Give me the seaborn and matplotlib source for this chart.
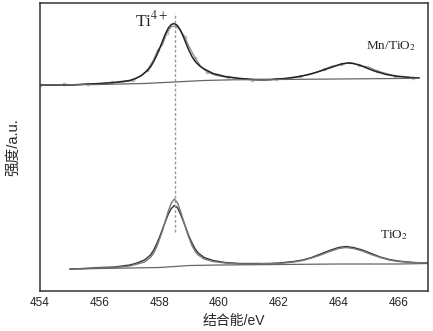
import matplotlib
matplotlib.use('Agg')
import matplotlib.pyplot as plt
import seaborn as sns
import numpy as np

# Mn/TiO2 (upper trace): fitted envelope, measured data, background
mn_fit_x = [454.0, 455.0, 456.0, 456.5, 457.0, 457.2, 457.4, 457.6, 457.7, 457.8, 457.9, 458.0,
            458.1, 458.2, 458.3, 458.4, 458.5, 458.6, 458.7, 458.8, 458.9, 459.0, 459.1, 459.2,
            459.35, 459.5, 459.8, 460.2, 460.7, 461.2, 461.7, 462.2, 462.7, 463.0, 463.3, 463.6,
            463.9, 464.1, 464.3, 464.5, 464.7, 464.9, 465.2, 465.6, 466.0, 466.4, 466.7]
mn_fit_y = [206, 206, 207.5, 208.5, 210.5, 212.5, 215.5, 220.5, 224, 229, 235, 242,
            249.5, 257, 263, 266.5, 267.5, 265.5, 261, 254.5, 247, 240, 234, 229.5,
            225, 222, 217.5, 214.5, 212.5, 211.5, 211.5, 212.5, 214.5, 216.5, 219, 222,
            225, 227, 228, 227.5, 226, 223.5, 220, 216.5, 214.5, 213.5, 213]

mn_raw_x = [454.0, 454.4, 454.8, 455.2, 455.6, 456.0, 456.4, 456.8, 457.1, 457.4, 457.6, 457.8,
            457.95, 458.1, 458.25, 458.4, 458.55, 458.7, 458.85, 459.0, 459.2, 459.4, 459.6,
            459.9, 460.3, 460.7, 461.1, 461.5, 461.9, 462.3, 462.7, 463.1, 463.5, 463.8, 464.1,
            464.4, 464.7, 465.0, 465.3, 465.6, 465.9, 466.2, 466.5, 466.7]
mn_raw_y = [206, 205.5, 206.5, 206, 207, 207, 208.5, 209, 210.5, 215.5, 221, 231,
            241, 246, 258, 264.5, 265, 261, 254, 244, 233, 224, 219,
            215.5, 213.5, 212.5, 211, 210.5, 211.5, 212, 214.5, 217, 221.5, 225, 226.5,
            228.5, 225.5, 224, 220, 217.5, 215, 214.5, 213, 213.5]

mn_bg_x = [454.0, 456.0, 457.5, 458.5, 459.5, 460.5, 462.0, 464.0, 466.0, 466.7]
mn_bg_y = [206, 206.5, 207.5, 209, 210.5, 211.2, 211.5, 212, 212.5, 212.7]

# TiO2 (lower trace): two fitted curves + background
ti_x = [455.0, 455.5, 456.0, 456.5, 457.0, 457.2, 457.5, 457.7, 457.8, 457.9, 458.0, 458.1,
        458.2, 458.3, 458.4, 458.5, 458.6, 458.7, 458.8, 458.9, 459.0, 459.1, 459.2, 459.3,
        459.5, 459.8, 460.2, 460.7, 461.2, 461.7, 462.0, 462.5, 462.8, 463.1, 463.4, 463.7,
        464.0, 464.25, 464.5, 464.8, 465.1, 465.4, 465.7, 466.0, 466.5, 467.0]
ti_a_y = [22, 22.5, 23, 23.5, 25, 26.5, 29, 33.5, 37.5, 43.5, 51.5, 60,
          70, 80, 88, 92, 88.5, 80.5, 71, 61, 52.5, 45, 39.5, 36,
          32, 29.5, 28, 27, 27, 27.5, 27.5, 29, 30.5, 33, 36, 39.5,
          42.5, 43.5, 42.5, 40, 36.5, 33.5, 31, 29.5, 28.5, 28]
ti_b_y = [22, 22.5, 23.5, 24, 26, 27.5, 31, 36, 40.5, 46.5, 53.5, 61.5,
          69.5, 77, 82.5, 85.5, 83.5, 77.5, 70, 62, 54, 47.5, 42, 38,
          33.5, 30.5, 28.5, 27.5, 27.5, 27.5, 28, 29.5, 31, 33.5, 37, 40.5,
          43.5, 44.5, 43.5, 41, 37.5, 34, 31.5, 30, 28.5, 28]
ti_bg_x = [455.0, 457.0, 458.0, 458.5, 459.0, 460.0, 462.0, 464.0, 466.0, 467.0]
ti_bg_y = [22, 23, 23.5, 24.5, 25.5, 26, 26.5, 27, 27, 27.5]

peak_pos = 458.53

sns.set_style('white')
plt.rcParams['font.family'] = ['Liberation Sans', 'Noto Sans CJK SC', 'DejaVu Sans']
plt.rcParams['mathtext.fontset'] = 'stix'

fig = plt.figure(figsize=(4.33, 3.31), dpi=100)
ax = fig.add_axes([0.0924, 0.1208, 0.8961, 0.8702])

sns.lineplot(x=mn_raw_x, y=mn_raw_y, ax=ax, color='#8a8a8a', lw=0.9, marker='o',
             markersize=2.0, markerfacecolor='none', markeredgecolor='#999999',
             markeredgewidth=0.5, markevery=2)
sns.lineplot(x=mn_fit_x, y=mn_fit_y, ax=ax, color='#222222', lw=1.1)
sns.lineplot(x=mn_bg_x, y=mn_bg_y, ax=ax, color='#666666', lw=0.9)

sns.lineplot(x=ti_x, y=ti_b_y, ax=ax, color='#333333', lw=1.0)
sns.lineplot(x=ti_x, y=ti_a_y, ax=ax, color='#777777', lw=1.0)
sns.lineplot(x=ti_bg_x, y=ti_bg_y, ax=ax, color='#666666', lw=0.9)

ax.vlines(peak_pos, 59, 278, colors='#999999', linestyles=(0, (2, 1.5)), lw=1.0)

ax.text(458.3, 271, 'Ti$^{4+}$', family='Liberation Serif', fontsize=12.5, ha='right', va='center')
ax.text(465.75, 245, 'Mn/TiO$_2$', family='Liberation Serif', fontsize=9.5, ha='center', va='center')
ax.text(465.85, 56, 'TiO$_2$', family='Liberation Serif', fontsize=9.5, ha='center', va='center')

ax.set_xlim(454, 467)
ax.set_ylim(0, 288)
ax.set_xticks(np.arange(454, 467, 2))
ax.set_xticks(np.arange(455, 467, 2), minor=True)
ax.set_yticks([])
ax.tick_params(axis='x', which='both', direction='in', length=3, width=0.8, labelsize=8.5, pad=4)
for s in ax.spines.values():
    s.set_color('#333333')
    s.set_linewidth(1.1)

ax.set_xlabel('结合能/eV', fontsize=10, labelpad=4)
ax.set_ylabel('强度/a.u.', fontsize=10.5, labelpad=14)

plt.savefig('out.png', dpi=100)
